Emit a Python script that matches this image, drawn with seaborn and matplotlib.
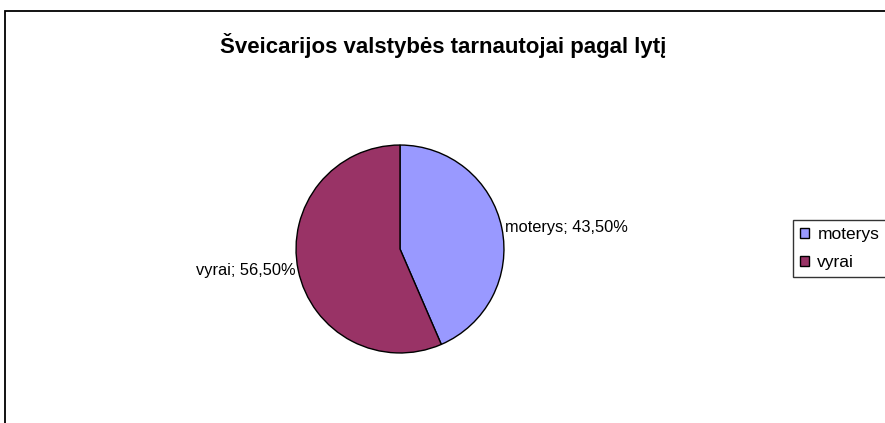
import matplotlib
matplotlib.use('Agg')
import matplotlib.pyplot as plt
import seaborn as sns
from matplotlib.patches import Rectangle

sns.set_style('white')
plt.rcParams['font.family'] = ['Liberation Sans', 'DejaVu Sans']
plt.rcParams['text.color'] = 'black'

categories = ['moterys', 'vyrai']
shares = [43.5, 56.5]
colors = ['#9999FF', '#993366']
title = 'Šveicarijos valstybės tarnautojai pagal lytį'

W, H = 885, 423
fig = plt.figure(figsize=(W / 100, H / 100), dpi=100)
fig.patch.set_facecolor('white')

# chart frame (right and bottom edges fall outside the image)
fig.patches.append(Rectangle((5 / W, -0.1), 1.0, 1 - 11 / H + 0.1, transform=fig.transFigure,
                             fill=False, edgecolor='black', linewidth=1.3))

ax = fig.add_axes([295 / W, (H - 354) / H, 210 / W, 210 / H])
labels = [f'{c}; {v:.2f}%'.replace('.', ',') for c, v in zip(categories, shares)]
wedges, texts = ax.pie(shares, colors=colors, startangle=90, counterclock=False,
                       labels=labels, labeldistance=1.03,
                       wedgeprops=dict(edgecolor='black', linewidth=1.0),
                       textprops=dict(fontsize=11.8, color='black'))
ax.set_xlim(-1.01, 1.01)
ax.set_ylim(-1.01, 1.01)
ax.set_aspect('equal')
ax.axis('off')

fig.text(443 / W, 1 - 45 / H, title, ha='center', va='center',
         fontsize=16, fontweight='bold', color='black')

leg = fig.legend(wedges, categories, loc='upper left',
                 bbox_to_anchor=(793 / W, 1 - 220 / H), borderaxespad=0,
                 fontsize=12.5, frameon=True, fancybox=False, edgecolor='black',
                 handlelength=0.55, handleheight=0.55, handletextpad=0.45,
                 labelspacing=0.75, borderpad=0.4)
leg.get_frame().set_linewidth(1.0)

fig.savefig('out.png', dpi=100, facecolor='white')
